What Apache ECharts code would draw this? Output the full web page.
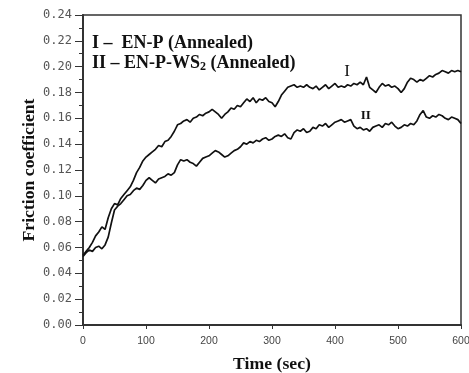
<!DOCTYPE html>
<html>
<head>
<meta charset="utf-8">
<script src="https://cdn.jsdelivr.net/npm/echarts@6/dist/echarts.min.js"></script>
<style>html,body{margin:0;padding:0;background:#fff;}#c{width:469px;height:373px;}</style>
</head>
<body>
<div id="c"></div>
<script>
// time (sec) sampled every 5 s
const timeSec = [0,5,10,15,20,25,30,35,40,45,50,55,60,65,70,75,80,85,90,95,100,105,110,115,120,125,130,135,140,145,150,155,160,165,170,175,180,185,190,195,200,205,210,215,220,225,230,235,240,245,250,255,260,265,270,275,280,285,290,295,300,305,310,315,320,325,330,335,340,345,350,355,360,365,370,375,380,385,390,395,400,405,410,415,420,425,430,435,440,445,450,455,460,465,470,475,480,485,490,495,500,505,510,515,520,525,530,535,540,545,550,555,560,565,570,575,580,585,590,595,600];
// Curve I – EN-P (Annealed)
const frictionI = [0.054,0.057,0.060,0.064,0.069,0.072,0.076,0.074,0.083,0.090,0.094,0.093,0.098,0.101,0.104,0.107,0.112,0.118,0.122,0.127,0.130,0.132,0.134,0.136,0.139,0.138,0.142,0.143,0.146,0.150,0.155,0.156,0.158,0.159,0.157,0.160,0.161,0.163,0.162,0.164,0.165,0.167,0.165,0.163,0.160,0.163,0.165,0.168,0.167,0.170,0.169,0.172,0.175,0.173,0.176,0.172,0.175,0.174,0.176,0.173,0.172,0.169,0.173,0.178,0.181,0.184,0.185,0.186,0.184,0.185,0.184,0.186,0.184,0.183,0.185,0.182,0.184,0.186,0.183,0.185,0.187,0.184,0.185,0.184,0.186,0.185,0.187,0.186,0.188,0.186,0.192,0.184,0.182,0.180,0.184,0.187,0.185,0.186,0.184,0.185,0.183,0.180,0.183,0.188,0.191,0.190,0.188,0.190,0.189,0.191,0.193,0.192,0.194,0.195,0.197,0.196,0.195,0.197,0.196,0.197,0.196];
// Curve II – EN-P-WS2 (Annealed)
const frictionII = [0.053,0.056,0.058,0.057,0.060,0.061,0.059,0.062,0.068,0.079,0.089,0.092,0.094,0.097,0.100,0.101,0.104,0.106,0.105,0.108,0.112,0.114,0.112,0.110,0.113,0.114,0.115,0.117,0.116,0.118,0.124,0.128,0.127,0.128,0.126,0.125,0.123,0.126,0.129,0.130,0.131,0.133,0.135,0.134,0.132,0.130,0.131,0.133,0.135,0.136,0.138,0.141,0.140,0.142,0.141,0.143,0.142,0.144,0.145,0.143,0.144,0.146,0.147,0.146,0.148,0.145,0.144,0.149,0.151,0.150,0.152,0.149,0.150,0.153,0.152,0.155,0.154,0.156,0.153,0.155,0.157,0.158,0.159,0.157,0.158,0.159,0.154,0.152,0.153,0.151,0.152,0.150,0.153,0.154,0.155,0.153,0.156,0.155,0.157,0.154,0.152,0.153,0.155,0.154,0.156,0.155,0.158,0.163,0.166,0.161,0.160,0.162,0.161,0.163,0.162,0.160,0.159,0.161,0.160,0.159,0.156];
// curve labels [time, value, text]
const curveLabelI = [419, 0.1966, 'I'];
const curveLabelII = [449, 0.1618, 'II'];
const xTitle = 'Time (sec)';
const yTitle = 'Friction coefficient';

const chart = echarts.init(document.getElementById('c'), null, {renderer: 'canvas'});
const pairs = (ys) => timeSec.map((t, i) => [t, ys[i]]);
const serif = '"Liberation Serif", "Times New Roman", serif';

chart.setOption({
  animation: false,
  backgroundColor: '#fff',
  grid: {left: 83, right: 8, top: 15, bottom: 48, containLabel: false, outerBoundsMode: 'none',
    show: true, borderColor: '#333', borderWidth: 1.5},
  xAxis: {
    type: 'value', min: 0, max: 600, interval: 100,
    name: xTitle, nameLocation: 'middle', nameGap: 30, nameMoveOverlap: false,
    nameTextStyle: {fontFamily: serif, fontWeight: 'bold', fontSize: 17.7, color: '#111'},
    axisLine: {lineStyle: {color: '#333', width: 2}},
    axisTick: {show: true, length: 4, lineStyle: {color: '#333'}},
    axisLabel: {fontFamily: '"Liberation Sans", Arial, sans-serif', fontSize: 10.5, color: '#444', margin: 11},
    splitLine: {show: false}
  },
  yAxis: {
    type: 'value', min: 0, max: 0.24, interval: 0.02,
    name: yTitle, nameLocation: 'middle', nameGap: 45, nameMoveOverlap: false,
    nameTextStyle: {fontFamily: serif, fontWeight: 'bold', fontSize: 17.7, color: '#111'},
    axisLine: {lineStyle: {color: '#333', width: 2}},
    axisTick: {show: true, length: 8, lineStyle: {color: '#333'}},
    minorTick: {show: true, splitNumber: 2, length: 4, lineStyle: {color: '#333'}},
    axisLabel: {fontFamily: '"DejaVu Sans Mono", monospace', fontSize: 12, color: '#555', margin: 11,
      formatter: (v) => v.toFixed(2)},
    splitLine: {show: false}
  },
  graphic: [
    {type: 'text', left: 92, top: 34, style: {text: 'I –  EN-P (Annealed)', font: 'bold 18px ' + serif, fill: '#111'}},
    {type: 'text', left: 92, top: 54, style: {
      text: '{a|II – EN-P-WS}{s|2}{a| (Annealed)}',
      rich: {
        a: {fontFamily: serif, fontWeight: 'bold', fontSize: 18, fill: '#111', color: '#111'},
        s: {fontFamily: serif, fontWeight: 'bold', fontSize: 12, fill: '#111', color: '#111', padding: [7, 0, 0, 0]}
      }
    }}
  ],
  series: [
    {
      type: 'line', data: pairs(frictionI), showSymbol: false, symbol: 'none',
      lineStyle: {color: '#111', width: 1.7}, itemStyle: {color: '#111'},
      markPoint: {symbol: 'circle', symbolSize: 0, data: [{coord: [curveLabelI[0], curveLabelI[1]], value: curveLabelI[2]}],
        label: {show: true, position: 'inside', formatter: curveLabelI[2], fontFamily: serif, fontSize: 17, color: '#111'}}
    },
    {
      type: 'line', data: pairs(frictionII), showSymbol: false, symbol: 'none',
      lineStyle: {color: '#111', width: 1.7}, itemStyle: {color: '#111'},
      markPoint: {symbol: 'circle', symbolSize: 0, data: [{coord: [curveLabelII[0], curveLabelII[1]], value: curveLabelII[2]}],
        label: {show: true, position: 'inside', formatter: curveLabelII[2], fontFamily: serif, fontWeight: 'bold', fontSize: 13, color: '#111'}}
    }
  ]
});
</script>
</body>
</html>
